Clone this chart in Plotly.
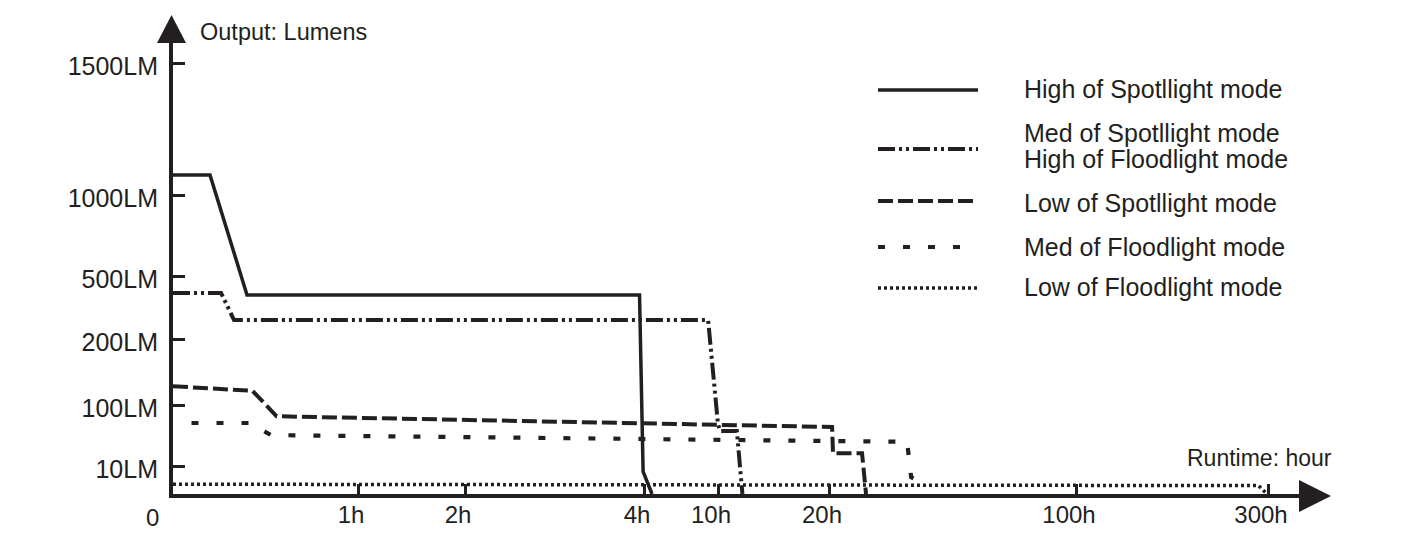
import numpy as np
import plotly.graph_objects as go

# ---------------- data ----------------
HOUR_TICKS = [0, 1, 2, 4, 10, 20, 100, 300]
HOUR_TICK_LABELS = ["", "1h", "2h", "4h", "10h", "20h", "100h", "300h"]
LUMEN_TICKS = [0, 10, 100, 200, 500, 1000, 1500]
LUMEN_TICK_LABELS = ["", "10LM", "100LM", "200LM", "500LM", "1000LM", "1500LM"]

high_spot_hours = [0, 0.2, 0.4, 3.95, 3.99, 4.65]
high_spot_lm = [1078, 1078, 410, 410, 8, 0]

med_spot_hours = [0, 0.26, 0.33, 9.2, 10.0, 10.2, 11.7, 12.2]
med_spot_lm = [419, 419, 290, 290, 72, 62, 62, 0]

low_spot_hours = [0, 0.43, 0.56, 21.0, 21.3, 30.7, 32.0]
low_spot_lm = [129, 122, 84, 68, 29, 29, 0]

med_flood_hours = [0.1, 0.41, 0.53, 45.3, 46.6, 51.8]
med_flood_lm = [74, 74, 56, 46, 6, 3.2]

low_flood_hours = [0, 290, 299]
low_flood_lm = [3.5, 3, 0]

SERIES_NAMES = [["High of Spotllight mode"],
                ["Med of Spotllight mode", "High of Floodlight mode"],
                ["Low of Spotllight mode"],
                ["Med of Floodlight mode"],
                ["Low of Floodlight mode"]]

# ---------------- layout / scale definition ----------------
W, H = 1416, 553
PAGE_OFF = 8                      # default body margin of the html page
PLOT_L, PLOT_R, PLOT_T, PLOT_B = 173, 1300, 43, 494   # on-screen plot box
PW, PH = PLOT_R - PLOT_L, PLOT_B - PLOT_T
ML = PLOT_L - PAGE_OFF
MT = PLOT_T - PAGE_OFF
MR = W - (PLOT_R - PAGE_OFF)
MB = H - (PLOT_B - PAGE_OFF)
# the printed chart uses a broken, non-uniform scale: position of each tick (axis units)
X_STOPS = [0, 185, 292, 471, 545, 656, 903, 1095]
Y_STOPS = [0, 28, 88.5, 155, 218, 298.5, 430.5]

INK = "#231f20"
FONT = "Arial, Liberation Sans, sans-serif"


def xs(h):
    return np.interp(h, HOUR_TICKS, X_STOPS)


def ys(v):
    return np.interp(v, LUMEN_TICKS, Y_STOPS)


def px(x):
    return (x - PLOT_L) / PW


def py(y):
    return (PLOT_B - y) / PH


DASHES = ["solid", "17px,4px,3px,4px,3px,4px", "15px,5px", "7px,18px", "3px,3px"]
WIDTHS = [3.5, 4, 4, 4.2, 3.5]

series = [(high_spot_hours, high_spot_lm), (med_spot_hours, med_spot_lm),
          (low_spot_hours, low_spot_lm), (med_flood_hours, med_flood_lm),
          (low_flood_hours, low_flood_lm)]

fig = go.Figure()
for (hx, ly), names, dash, w in zip(series, SERIES_NAMES, DASHES, WIDTHS):
    fig.add_trace(go.Scatter(x=xs(hx), y=ys(ly), mode="lines", name=" / ".join(names),
                             line=dict(color=INK, width=w, dash=dash),
                             showlegend=False, hoverinfo="skip", cliponaxis=False))

shapes = []
annotations = []
# axis arrows
shapes.append(dict(type="path", xref="paper", yref="paper",
                   path=f"M {px(171.5)},{py(15)} L {px(157)},{py(43)} L {px(186)},{py(43)} Z",
                   fillcolor=INK, line=dict(width=0)))
shapes.append(dict(type="path", xref="paper", yref="paper",
                   path=f"M {px(1331)},{py(496)} L {px(1299)},{py(480)} L {px(1299)},{py(512)} Z",
                   fillcolor=INK, line=dict(width=0)))

# manual legend
LEG_Y = [90, 149, 201, 247, 288]
LEG_TEXT_Y = [[89], [133, 159], [203], [247], [287]]
for names, dash, w, ly, tys in zip(SERIES_NAMES, DASHES, WIDTHS, LEG_Y, LEG_TEXT_Y):
    shapes.append(dict(type="line", xref="paper", yref="paper",
                       x0=px(878), x1=px(978), y0=py(ly), y1=py(ly),
                       line=dict(color=INK, width=w, dash=dash)))
    for name, ty in zip(names, tys):
        annotations.append(dict(xref="paper", yref="paper", x=px(1022), y=py(ty),
                                xanchor="left", yanchor="middle", align="left",
                                text=name, showarrow=False,
                                font=dict(family=FONT, size=25, color=INK)))

annotations.append(dict(xref="paper", yref="paper", x=px(198), y=py(32),
                        xanchor="left", yanchor="middle", text="Output: Lumens",
                        showarrow=False, font=dict(family=FONT, size=23.5, color=INK)))
annotations.append(dict(xref="paper", yref="paper", x=px(1334), y=py(458),
                        xanchor="right", yanchor="middle", text="Runtime: hour",
                        showarrow=False, font=dict(family=FONT, size=23, color=INK)))
annotations.append(dict(xref="paper", yref="paper", x=px(152), y=py(517),
                        xanchor="center", yanchor="middle", text="0",
                        showarrow=False, font=dict(family=FONT, size=24, color=INK)))

fig.update_layout(
    width=W, height=H,
    margin=dict(l=ML, r=MR, t=MT, b=MB),
    paper_bgcolor="white", plot_bgcolor="white",
    hovermode=False,
    shapes=shapes, annotations=annotations,
    font=dict(family=FONT, size=24, color=INK),
    xaxis=dict(range=[0, PW], tickvals=X_STOPS[1:], ticktext=HOUR_TICK_LABELS[1:],
               showgrid=False, zeroline=False, showline=True, linewidth=4, linecolor=INK,
               ticks="inside", ticklen=10, tickwidth=3, tickcolor=INK,
               ticklabelshift=-7, ticklabelstandoff=-4,
               tickfont=dict(family=FONT, size=24, color=INK),
               fixedrange=True),
    yaxis=dict(range=[0, PH], tickvals=Y_STOPS[1:], ticktext=LUMEN_TICK_LABELS[1:],
               showgrid=False, zeroline=False, showline=True, linewidth=4, linecolor=INK,
               ticks="inside", ticklen=12, tickwidth=3, tickcolor=INK,
               ticklabelshift=3, ticklabelstandoff=6,
               tickfont=dict(family=FONT, size=25, color=INK), fixedrange=True),
)

fig.write_html("out.html")
